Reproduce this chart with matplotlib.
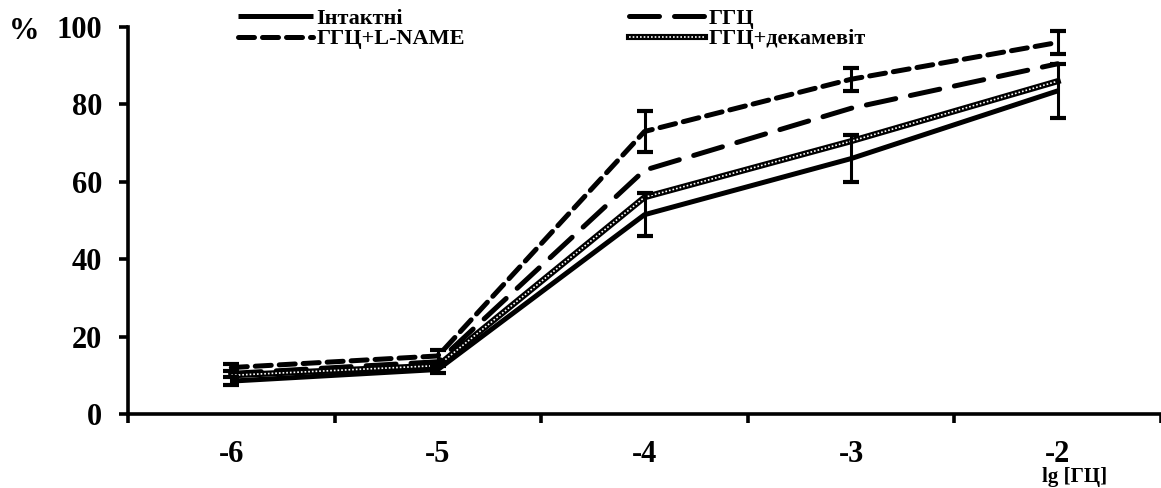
import matplotlib

matplotlib.use("Agg")

import matplotlib.pyplot as plt
from matplotlib.ticker import FixedLocator

plt.rcParams["font.family"] = ["Liberation Serif", "DejaVu Serif"]
plt.rcParams["font.weight"] = "bold"

x_labels = ["-6", "-5", "-4", "-3", "-2"]
intact = [8.5, 11.5, 51.5, 66.0, 83.5]
intact_err = [1.0, 1.0, 5.5, 6.0, 7.0]
ggc = [10.5, 13.5, 63.0, 79.0, 90.5]
lname = [12.0, 15.0, 73.0, 86.5, 96.0]
lname_err = [1.0, 1.5, 5.3, 3.0, 3.0]
dekam = [10.0, 12.5, 56.0, 70.5, 86.0]
series_names = ["Інтактні", "ГГЦ", "ГГЦ+L-NAME", "ГГЦ+декамевіт"]

xs = list(range(len(x_labels)))

fig = plt.figure(figsize=(11.61, 4.88), dpi=100)
ax = fig.add_axes([128 / 1161, 74 / 488, 1033 / 1161, 387 / 488])

lw = 3.6
h_intact, = ax.plot(xs, intact, color="black", lw=lw, solid_capstyle="butt", zorder=3)
h_ggc, = ax.plot(xs, ggc, color="black", lw=lw, linestyle=(0, (6, 3)),
                 dash_capstyle="round", zorder=3)
h_lname, = ax.plot(xs, lname, color="black", lw=lw, linestyle=(0, (3.2, 1.6)),
                   dash_capstyle="round", zorder=3)
# checkered line: black core with a fine white dot pattern on top
h_dek1, = ax.plot(xs, dekam, color="black", lw=4.4, zorder=3)
h_dek2, = ax.plot(xs, dekam, color="white", lw=1.2, linestyle=(0, (1, 1.2)), zorder=4)

ax.errorbar(xs, intact, yerr=intact_err, fmt="none", ecolor="black",
            elinewidth=2.2, capsize=6, capthick=3, zorder=5)
ax.errorbar(xs, lname, yerr=lname_err, fmt="none", ecolor="black",
            elinewidth=2.2, capsize=6, capthick=3, zorder=5)

ax.set_xlim(-0.5, 4.5)
ax.set_ylim(0, 100)
ax.set_yticks([0, 20, 40, 60, 80, 100])
ax.set_xticks(xs)
ax.set_xticklabels(x_labels)
ax.xaxis.set_minor_locator(FixedLocator([i - 0.5 for i in range(6)]))

for side in ["top", "right"]:
    ax.spines[side].set_visible(False)
for side in ["left", "bottom"]:
    ax.spines[side].set_linewidth(2.6)

ax.tick_params(axis="y", which="major", direction="out", length=6.5, width=2.6,
               labelsize=22, pad=12)
ax.tick_params(axis="x", which="major", length=0, labelsize=22, pad=19)
ax.tick_params(axis="x", which="minor", direction="out", length=6.5, width=2.6)
for lab in ax.get_xticklabels() + ax.get_yticklabels():
    lab.set_fontweight("bold")

fig.text(24 / 1161, 1 - 28 / 488, "%", fontsize=22, fontweight="bold",
         ha="center", va="center_baseline")
fig.text(1075 / 1161, 1 / 488, "lg [ГЦ]", fontsize=15, fontweight="bold",
         ha="center", va="bottom")

# column-first fill: order handles so rows read Інтактні/ГГЦ, L-NAME/декамевіт
leg = fig.legend(
    [h_intact, h_lname, h_ggc, (h_dek1, h_dek2)],
    [series_names[0], series_names[2], series_names[1], series_names[3]],
    ncol=2,
    loc="upper left",
    bbox_to_anchor=(222 / 1161, 1.015),
    frameon=False,
    prop={"size": 16, "weight": "bold"},
    handlelength=3.4,
    handletextpad=0.15,
    labelspacing=0.0,
    columnspacing=7.4,
    borderpad=0.2,
)

fig.savefig("out.png", dpi=100)
